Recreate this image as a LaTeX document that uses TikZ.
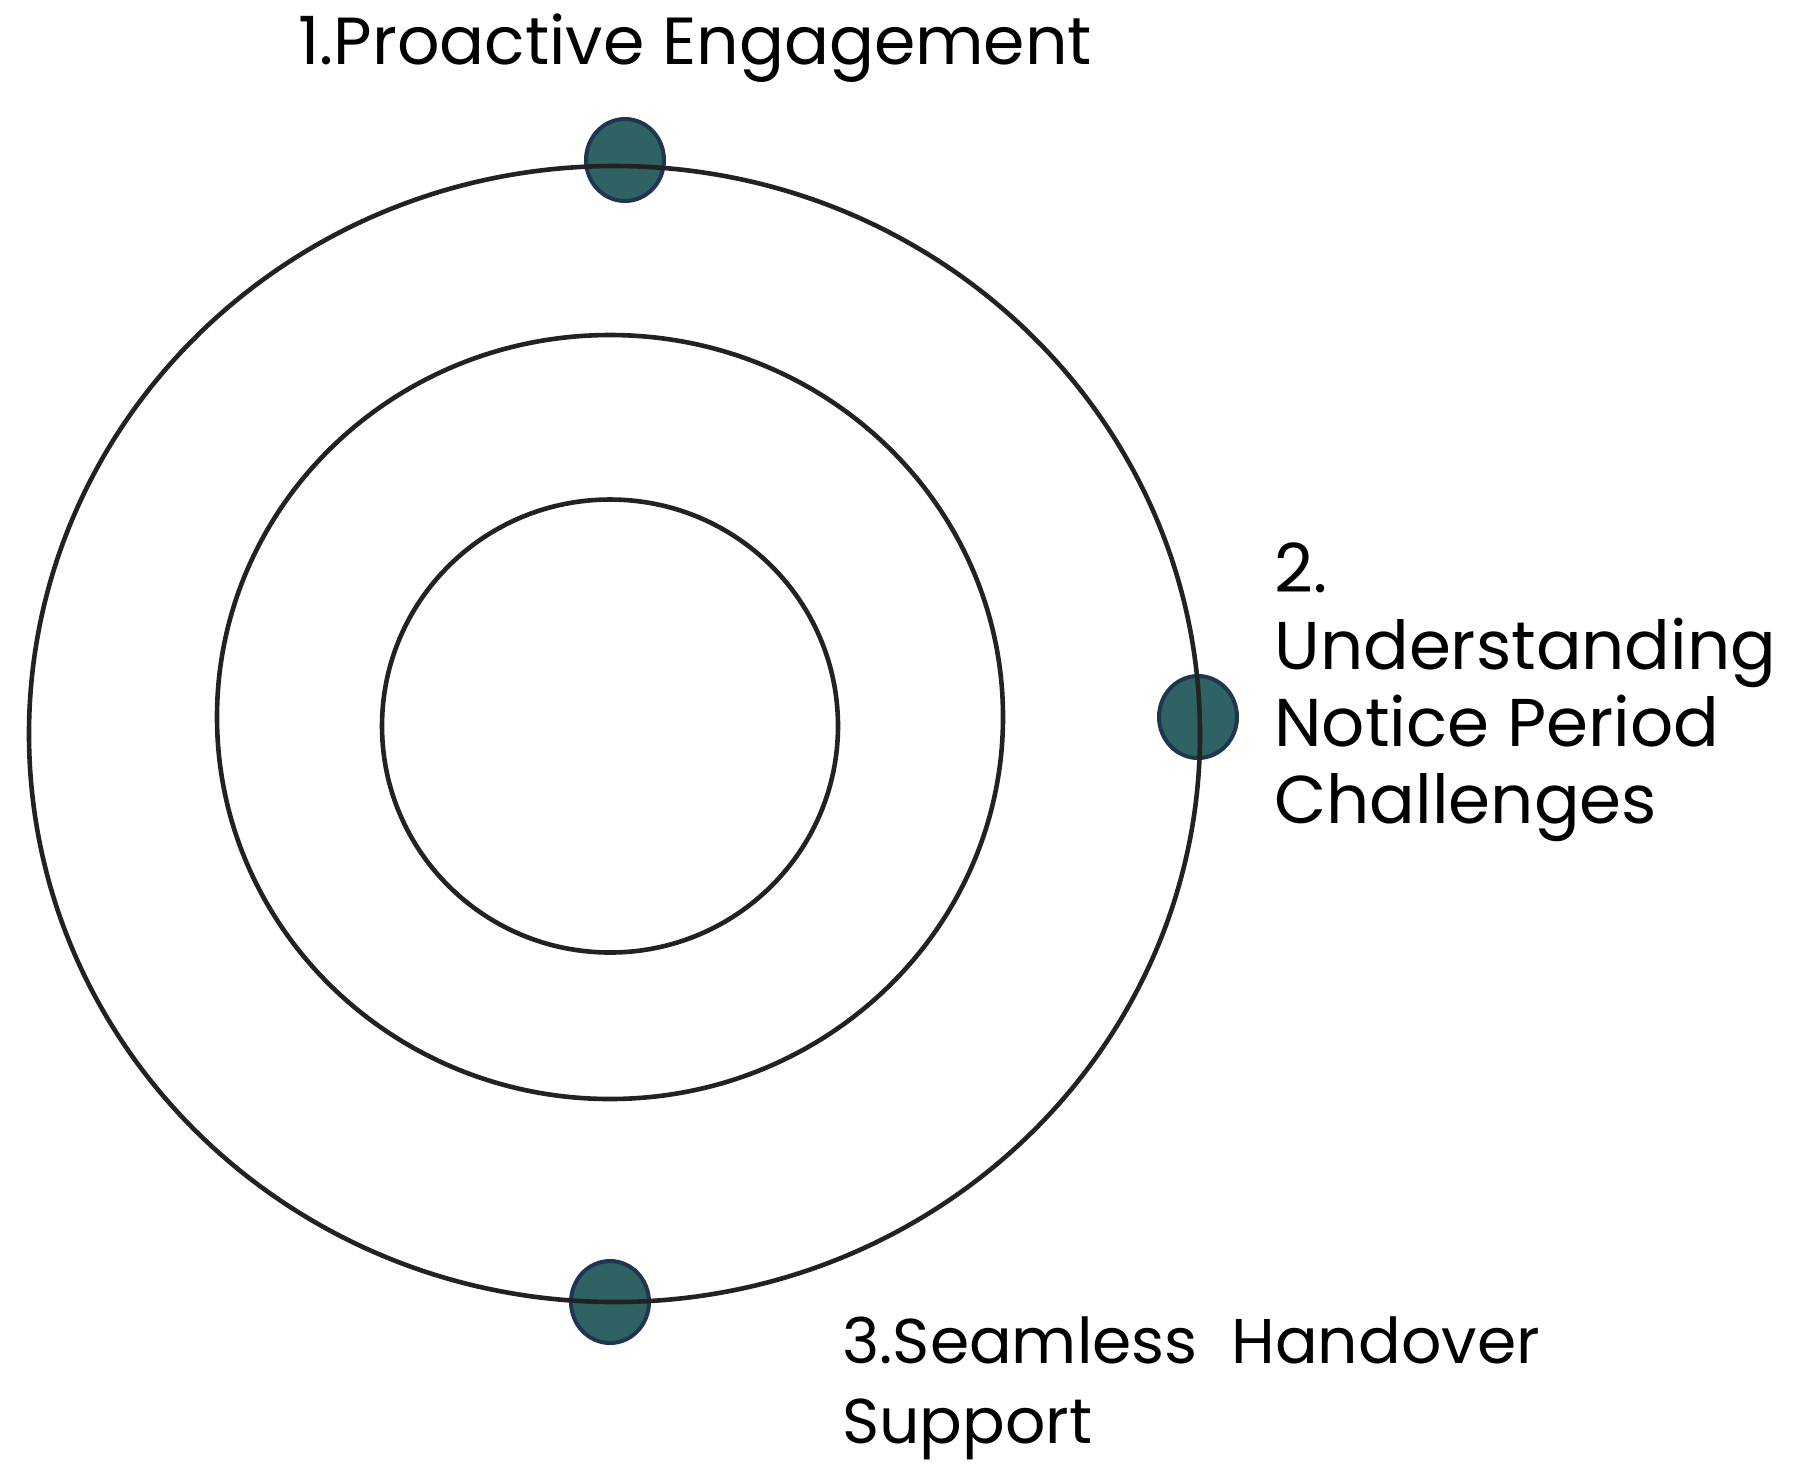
\documentclass[tikz,border=0pt]{standalone}
\usepackage{fontspec}
\setmainfont{Poppins}
\usetikzlibrary{shapes.geometric}
\definecolor{ringcol}{HTML}{222222}
\definecolor{dotfill}{HTML}{2F6262}
\definecolor{dotline}{HTML}{1F3550}
\tikzset{
  ring/.style={draw=ringcol, line width=2.3pt, ellipse, inner sep=0pt},
  dot/.style={draw=dotline, fill=dotfill, line width=2pt, ellipse, inner sep=0pt,
              minimum width=39pt, minimum height=41pt},
  lab/.style={inner sep=0pt, anchor=base west, align=left, text=black}
}
\begin{document}
\begin{tikzpicture}[x=0.5pt, y=-0.5pt]
\useasboundingbox[fill=white] (0,0) rectangle (1807,1469);
% dots (drawn first: the outer ring runs across them)
\node[dot] (d1) at (625,160) {};
\node[dot] (d2) at (1198,717) {};
\node[dot] (d3) at (610,1302) {};
% rings
\node[ring, minimum width=585.5pt, minimum height=568pt] (outer) at (614.5,734) {};
\node[ring, minimum width=393pt, minimum height=382pt] (middle) at (610,717) {};
\node[ring, minimum width=228pt, minimum height=226.5pt] (inner) at (610,726) {};
% labels (base anchor = baseline of the last line)
\node[lab, font=\fontsize{33.3}{38.5}\selectfont] (l1) at (298,64) {1.Proactive Engagement};
\node[lab, font=\fontsize{33.8}{38.5}\selectfont] (l2) at (1274,823) {2.\\Understanding\\Notice Period\\Challenges};
\node[lab, font=\fontsize{31.6}{40}\selectfont] (l3) at (842,1443) {3.Seamless\ \ Handover\\Support};
\end{tikzpicture}
\end{document}
